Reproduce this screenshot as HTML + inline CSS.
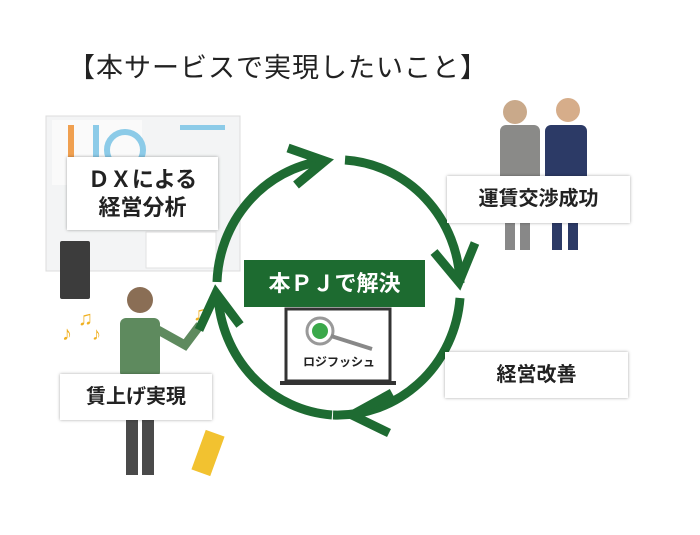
<!DOCTYPE html>
<html><head><meta charset="utf-8"><style>
body{margin:0;width:700px;height:535px;background:#fff;position:relative;overflow:hidden;font-family:"Liberation Sans","Noto Sans CJK JP",sans-serif}
.t{position:absolute;left:68px;top:46px;font-size:27px;color:#222;letter-spacing:1px}
.box{position:absolute;background:#fff;box-shadow:0 0 3px rgba(0,0,0,.35);display:flex;align-items:center;justify-content:center;font-weight:bold;color:#222;text-align:center;line-height:1.25}
</style></head><body>
<div class="t">【本サービスで実現したいこと】</div>
<svg width="700" height="535" style="position:absolute;left:0;top:0">
<!-- dashboard -->
<rect x="46" y="116" width="194" height="155" fill="#f3f4f5" stroke="#ddd"/>
<rect x="52" y="120" width="90" height="65" fill="#fafafa"/>
<rect x="68" y="125" width="6" height="50" fill="#f0a050"/>
<rect x="93" y="125" width="6" height="45" fill="#8ccbe8"/>
<circle cx="125" cy="150" r="18" fill="none" stroke="#8ccbe8" stroke-width="6"/>
<rect x="180" y="125" width="45" height="5" fill="#8ccbe8"/>
<rect x="146" y="232" width="70" height="36" fill="#fff" stroke="#e2e2e2"/>
<rect x="60" y="241" width="30" height="58" fill="#3c3c3c" rx="2"/>
<!-- worker -->
<circle cx="140" cy="300" r="13" fill="#8a6e55"/>
<rect x="120" y="318" width="40" height="60" fill="#5e8a5e" rx="6"/>
<path d="M158 330 L185 345 L200 325" stroke="#5e8a5e" stroke-width="9" fill="none"/>
<rect x="126" y="420" width="12" height="55" fill="#4a4a4a"/><rect x="142" y="420" width="12" height="55" fill="#4a4a4a"/>
<rect x="198" y="432" width="20" height="42" fill="#f2c230" transform="rotate(20 208 453)"/>
<text x="62" y="340" fill="#f0b020" font-size="20">♪</text><text x="78" y="325" fill="#f0b020" font-size="20">♫</text><text x="92" y="340" fill="#f0b020" font-size="18">♪</text><text x="193" y="320" fill="#f0b020" font-size="20">♫</text>
<!-- businessmen -->
<rect x="500" y="125" width="40" height="95" fill="#8a8a88" rx="6"/><circle cx="515" cy="112" r="12" fill="#c9a98a"/>
<rect x="505" y="220" width="10" height="30" fill="#888"/><rect x="520" y="220" width="10" height="30" fill="#888"/>
<rect x="545" y="125" width="42" height="95" fill="#2c3a66" rx="6"/><circle cx="568" cy="110" r="12" fill="#d6ad8a"/>
<rect x="552" y="220" width="10" height="30" fill="#2c3a66"/><rect x="568" y="220" width="10" height="30" fill="#2c3a66"/>
<!-- cycle -->
<g fill="none" stroke="#1e6b32" stroke-width="9" stroke-linecap="butt">
<path d="M217 282 A123 127 0 0 1 322 161"/>
<path d="M345 160 A123 127 0 0 1 460 283"/>
<path d="M460 298 A123 127 0 0 1 333 415"/>
<path d="M332 415 A123 127 0 0 1 218 295"/>
<polyline points="288,148 325,161 296,185"/>
<polyline points="475,243 459,282 434,252"/>
<polyline points="392,393 352,415 389,433"/>
<polyline points="199,330 216,293 240,325"/>
</g>
<!-- laptop -->
<rect x="286" y="309" width="104" height="72" fill="#fff" stroke="#333" stroke-width="3"/>
<rect x="280" y="381" width="116" height="4" fill="#333"/>
<circle cx="320" cy="331" r="13" fill="#fff" stroke="#999" stroke-width="3"/>
<circle cx="320" cy="331" r="8" fill="#3aa84a"/>
<line x1="331" y1="336" x2="372" y2="349" stroke="#888" stroke-width="4"/>
<text x="303" y="366" font-size="12" font-weight="bold" fill="#222" font-family="Liberation Sans,Noto Sans CJK JP,sans-serif">ロジフッシュ</text>
</svg>
<div class="box" style="left:67px;top:157px;width:151px;height:73px;font-size:22px">ＤＸによる<br>経営分析</div>
<div class="box" style="left:60px;top:374px;width:152px;height:46px;font-size:20px">賃上げ実現</div>
<div class="box" style="left:447px;top:176px;width:183px;height:47px;font-size:20px">運賃交渉成功</div>
<div class="box" style="left:445px;top:352px;width:183px;height:46px;font-size:20px">経営改善</div>
<div class="box" style="left:244px;top:260px;width:181px;height:47px;font-size:22px;background:#1d6b30;color:#fff;box-shadow:none">本ＰＪで解決</div>
</body></html>
